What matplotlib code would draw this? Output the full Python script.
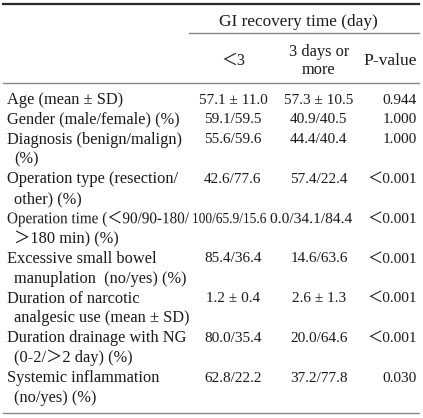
import matplotlib
matplotlib.use('Agg')
import matplotlib.pyplot as plt
from matplotlib.textpath import TextPath
from matplotlib.patches import PathPatch
from matplotlib.font_manager import FontProperties
from matplotlib.transforms import Affine2D

LT, GT = "\uff1c", "\uff1e"  # широкие знаки < и >

# Данные таблицы
row_labels = [
    ["Age (mean \u00b1 SD)"],
    ["Gender (male/female) (%)"],
    ["Diagnosis (benign/malign)", "(%)"],
    ["Operation type (resection/", "other) (%)"],
    ["Operation time (" + LT + "90/90-180/", GT + "180 min) (%)"],
    ["Excessive small bowel", "manuplation  (no/yes) (%)"],
    ["Duration of narcotic", "analgesic use (mean \u00b1 SD)"],
    ["Duration drainage with NG", "(0-2/" + GT + "2 day) (%)"],
    ["Systemic inflammation", "(no/yes) (%)"],
]
under_3 = ["57.1 \u00b1 11.0", "59.1/59.5", "55.6/59.6", "42.6/77.6", "100/65.9/15.6",
           "85.4/36.4", "1.2 \u00b1 0.4", "80.0/35.4", "62.8/22.2"]
over_3 = ["57.3 \u00b1 10.5", "40.9/40.5", "44.4/40.4", "57.4/22.4", "0.0/34.1/84.4",
          "14.6/63.6", "2.6 \u00b1 1.3", "20.0/64.6", "37.2/77.8"]
p_values = ["0.944", "1.000", "1.000", LT + "0.001", LT + "0.001",
            LT + "0.001", LT + "0.001", LT + "0.001", "0.030"]

group_title = "GI recovery time (day)"
col_titles = [LT + "3", "3 days or\nmore", "P-value"]

W, H = 423, 418
fig = plt.figure(figsize=(W / 100, H / 100), dpi=100)
ax = fig.add_axes([0, 0, 1, 1])
ax.set_xlim(0, W)
ax.set_ylim(H, 0)
ax.axis('off')

fam = ['Liberation Serif', 'Noto Sans CJK JP']
col = '#1a1a1a'
x_lab, x_ind, x_c1, x_c2, x_p = 7, 14, 233, 319, 417
y0, step = 100, 19.86


def txt(x, y, s, ha='left', size=11.8, **kw):
    ax.text(x, y, s, ha=ha, va='center', family=fam, size=size, color=col, **kw)


def squeezed(x_left, y, s, width, size=11.8):
    # текст, сжатый по ширине (как в оригинале в строке Operation time)
    px = size * 100 / 72
    tp = TextPath((0, 0), s, size=px, prop=FontProperties(family=fam))
    ext = tp.get_extents()
    sx = width / ext.x1
    tr = Affine2D().scale(sx, -1).translate(x_left, y + 0.25 * px) + ax.transData
    ax.add_patch(PathPatch(tp, transform=tr, facecolor=col, edgecolor='none', lw=0))


# Линии таблицы
ax.plot([3, 419], [3.5, 3.5], color='#2a2a2a', lw=1.6)
ax.plot([189, 419], [33, 33], color='#888888', lw=1.0)
ax.plot([3, 419], [83, 83], color='#888888', lw=1.0)
ax.plot([3, 419], [413, 413], color='#888888', lw=1.0)

# Шапка
txt(298, 22, group_title, ha='center', size=12.4)
txt(x_c1, 61, col_titles[0], ha='center', size=11.5)
txt(x_c2, 61, col_titles[1], ha='center', size=11.8, linespacing=1.1)
txt(x_p, 61, col_titles[2], ha='right', size=12.6)

# Строки
line = 0
for i, lines in enumerate(row_labels):
    y = y0 + step * line
    if i == 4:
        squeezed(x_lab, y, lines[0], 182)
        txt(x_ind, y + step, lines[1])
        squeezed(192, y, under_3[i], 74, size=11)
        squeezed(270, y, over_3[i], 82, size=11)
    else:
        for j, t in enumerate(lines):
            txt(x_lab if j == 0 else x_ind, y + step * j, t)
        txt(x_c1, y, under_3[i], ha='center', size=11)
        txt(x_c2, y, over_3[i], ha='center', size=11)
    txt(x_p, y, p_values[i], ha='right', size=11)
    line += len(lines)

fig.savefig('out.png', dpi=100)
